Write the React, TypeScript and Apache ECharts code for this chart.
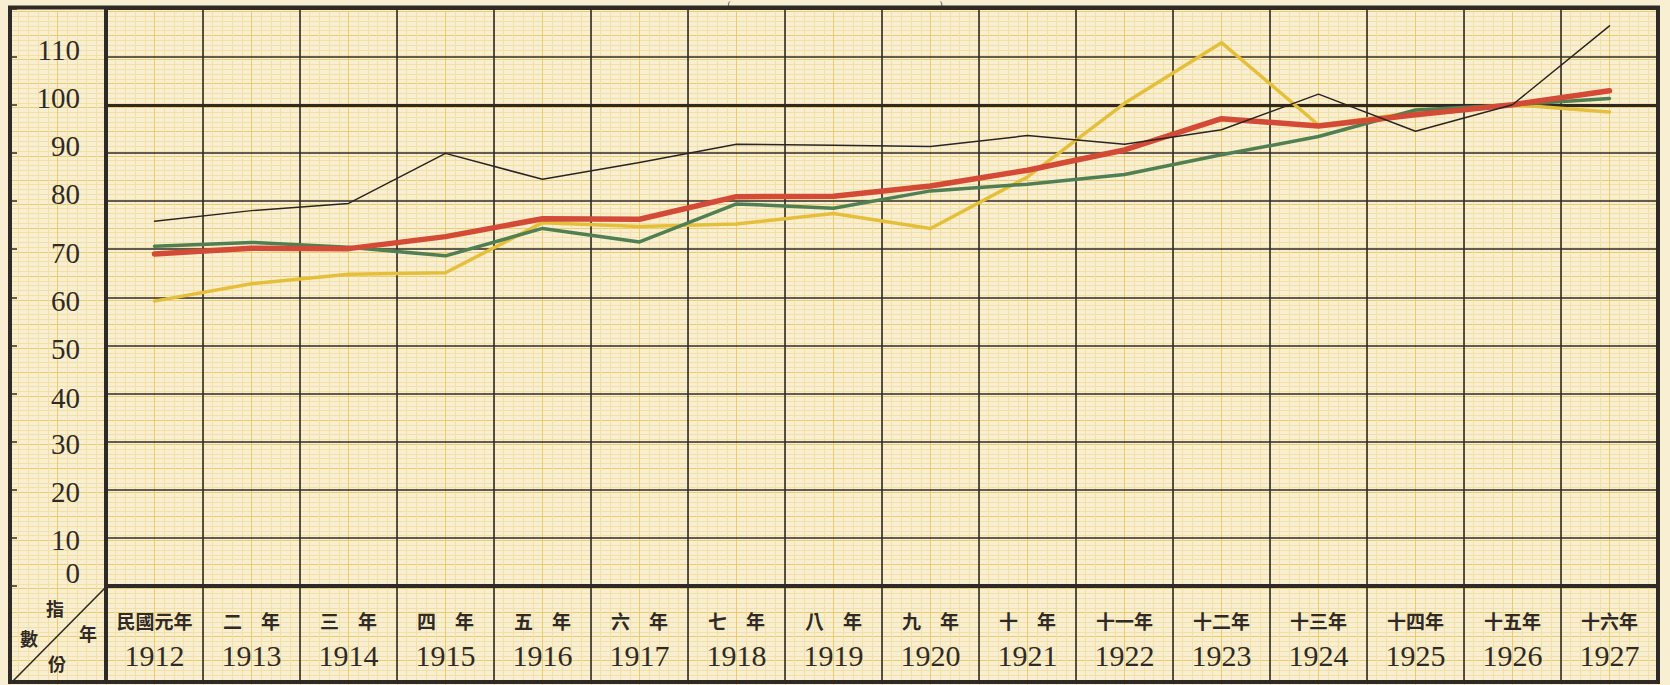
import React, { useEffect, useRef } from "react";
import * as echarts from "echarts";

// ---- data ----
const categoriesCn = [
  "民國元年", "二　年", "三　年", "四　年", "五　年", "六　年", "七　年", "八　年",
  "九　年", "十　年", "十一年", "十二年", "十三年", "十四年", "十五年", "十六年",
];
const categoriesYear = [
  "1912", "1913", "1914", "1915", "1916", "1917", "1918", "1919",
  "1920", "1921", "1922", "1923", "1924", "1925", "1926", "1927",
];
const blackSeries = [75.8, 78.0, 79.5, 89.9, 84.5, 88.0, 91.8, 91.6, 91.3, 93.6, 91.8, 94.8, 102.2, 94.5, 100, 116.4];
const redSeries = [69.0, 70.2, 70.1, 72.6, 76.3, 76.2, 80.9, 81.0, 83.1, 86.4, 90.6, 97.1, 95.6, 97.9, 100, 102.9];
const greenSeries = [70.6, 71.4, 70.4, 68.6, 74.3, 71.5, 79.4, 78.5, 82.1, 83.5, 85.5, 89.6, 93.4, 98.9, 100, 101.3];
const yellowSeries = [59.2, 62.8, 64.8, 65.1, 75.5, 74.7, 75.2, 77.4, 74.3, 85.0, 100.3, 112.9, 95.8, 98.4, 100, 98.5];
const yMin = 0;
const yMax = 120;
const yStep = 10;
const baseIndex = 100;
const cornerTexts = ["指", "數", "年", "份"];
const titleMarks = ["(", ")"];

// ---- styling ----
const ink = "#2f2a25";
const paperBg = "#f8efd3";
const paperFine = "#f2e0a6";
const paperMid = "#eacd6a";
const serif = "'Liberation Serif', 'DejaVu Serif', serif";
const cjk = "'Noto Sans CJK TC', 'Noto Sans CJK SC', sans-serif";

// vertical offsets (px) of the hand-set y labels relative to their line
function labelShift(v: number): number {
  if (v === 0) return -13;
  if (v >= 80) return -7;
  if (v >= 40) return 4;
  return 2;
}
function richKey(d: number): string {
  return d < 0 ? "u" + Math.abs(d) : "d" + d;
}

export default function App() {
  const ref = useRef<HTMLDivElement>(null);

  useEffect(() => {
    document.body.style.margin = "0";
    document.body.style.background = paperBg;
    if (!ref.current) return;
    const chart = echarts.init(ref.current, undefined, { renderer: "svg" });

    const yRich: Record<string, any> = {};
    for (let v = yMin; v < yMax; v += yStep) {
      const d = labelShift(v);
      yRich[richKey(d)] = {
        fontFamily: serif,
        fontSize: 29,
        color: ink,
        padding: d < 0 ? [0, 0, -2 * d, 0] : [2 * d, 0, 0, 0],
      };
    }

    const cornerPos = [
      [55, 608],
      [29, 638],
      [88, 633],
      [57, 663],
    ];

    const lineSeries = (data: number[], color: string, width: number, z: number) => ({
      type: "line",
      xAxisIndex: 0,
      yAxisIndex: 0,
      data,
      symbol: "none",
      smooth: false,
      z,
      lineStyle: { color, width, cap: "round", join: "round" },
      emphasis: { disabled: true },
    });

    chart.setOption({
      animation: false,
      backgroundColor: paperBg,
      grid: [
        { left: 106, right: 12, top: 8.5, bottom: 99 },
        { left: 9, right: 12, top: 11.5, bottom: 0.25 },
      ],
      xAxis: [
        {
          type: "category",
          gridIndex: 0,
          data: categoriesYear,
          boundaryGap: true,
          z: 3,
          axisLine: { show: true, lineStyle: { color: ink, width: 4 } },
          axisTick: { show: true, interval: 0, length: 96, lineStyle: { color: ink, width: 1.6 } },
          splitLine: { show: true, interval: 0, lineStyle: { color: ink, width: 1.6 } },
          axisLabel: {
            interval: 0,
            margin: 17,
            formatter: (v: string, i: number) => `{cn|${categoriesCn[i]}}\n{yr|${v}}`,
            rich: {
              cn: { fontFamily: cjk, fontWeight: "bold", fontSize: 19, lineHeight: 34, color: ink },
              yr: { fontFamily: serif, fontSize: 30, lineHeight: 36, color: ink },
            },
          },
        },
        {
          type: "value",
          gridIndex: 1,
          min: -10,
          max: 160,
          interval: 5,
          z: 0,
          axisLine: { show: false },
          axisTick: { show: false },
          axisLabel: { show: false },
          minorTick: { show: false, splitNumber: 5 },
          splitLine: { show: true, lineStyle: { color: paperMid, width: 1 } },
          minorSplitLine: { show: true, lineStyle: { color: paperFine, width: 1 } },
        },
      ],
      yAxis: [
        {
          type: "value",
          gridIndex: 0,
          min: yMin,
          max: yMax,
          interval: yStep,
          z: 3,
          axisLine: { show: true, lineStyle: { color: ink, width: 4 } },
          axisTick: { show: false },
          splitLine: { show: true, lineStyle: { color: ink, width: 1.6 } },
          axisLabel: {
            margin: 26,
            formatter: (v: number) => (v >= yMax ? "" : `{${richKey(labelShift(v))}|${v}}`),
            rich: yRich,
          },
        },
        {
          type: "value",
          gridIndex: 0,
          min: yMin,
          max: yMax,
          interval: yStep,
          position: "left",
          offset: 95,
          z: 3,
          axisLine: { show: false },
          axisTick: { show: true, inside: true, length: 6, lineStyle: { color: ink, width: 1.5 } },
          axisLabel: { show: false },
          splitLine: { show: false },
        },
        {
          type: "value",
          gridIndex: 0,
          min: yMin,
          max: yMax,
          interval: baseIndex,
          position: "right",
          z: 3,
          axisLine: { show: false },
          axisTick: { show: false },
          axisLabel: { show: false },
          splitLine: { show: true, lineStyle: { color: ink, width: 3 } },
        },
        {
          type: "value",
          gridIndex: 1,
          min: -20,
          max: 120,
          interval: 5,
          z: 0,
          axisLine: { show: false },
          axisTick: { show: false },
          axisLabel: { show: false },
          minorTick: { show: false, splitNumber: 5 },
          splitLine: { show: true, lineStyle: { color: paperMid, width: 1 } },
          minorSplitLine: { show: true, lineStyle: { color: paperFine, width: 1 } },
        },
      ],
      series: [
        lineSeries(yellowSeries, "#e6bf3a", 3.5, 5),
        lineSeries(greenSeries, "#4f7f52", 3.5, 6),
        lineSeries(redSeries, "#d34a37", 5.5, 7),
        lineSeries(blackSeries, "#2a2522", 1.5, 8),
      ],
      graphic: [
        {
          type: "rect",
          z: 100,
          shape: { x: 10, y: 7.5, width: 1648, height: 674.5 },
          style: { fill: "none", stroke: ink, lineWidth: 4 },
        },
        {
          type: "line",
          z: 100,
          shape: { x1: 106, y1: 586, x2: 106, y2: 682 },
          style: { stroke: ink, lineWidth: 4 },
        },
        {
          type: "line",
          z: 100,
          shape: { x1: 13, y1: 681, x2: 105, y2: 588 },
          style: { stroke: ink, lineWidth: 1.6 },
        },
        ...cornerTexts.map((t, i) => ({
          type: "text",
          z: 100,
          x: cornerPos[i][0],
          y: cornerPos[i][1],
          style: {
            text: t,
            fontFamily: cjk,
            fontWeight: "bold",
            fontSize: 18,
            fill: ink,
            align: "center",
            verticalAlign: "middle",
          },
        })),
        ...titleMarks.map((t, i) => ({
          type: "text",
          z: 100,
          x: i === 0 ? 729 : 941,
          y: 0,
          style: {
            text: t,
            fontFamily: serif,
            fontSize: 8,
            fill: ink,
            align: "center",
            verticalAlign: "top",
          },
        })),
      ],
    });

    return () => chart.dispose();
  }, []);

  return <div ref={ref} style={{ width: 1670, height: 685, background: paperBg }} />;
}
